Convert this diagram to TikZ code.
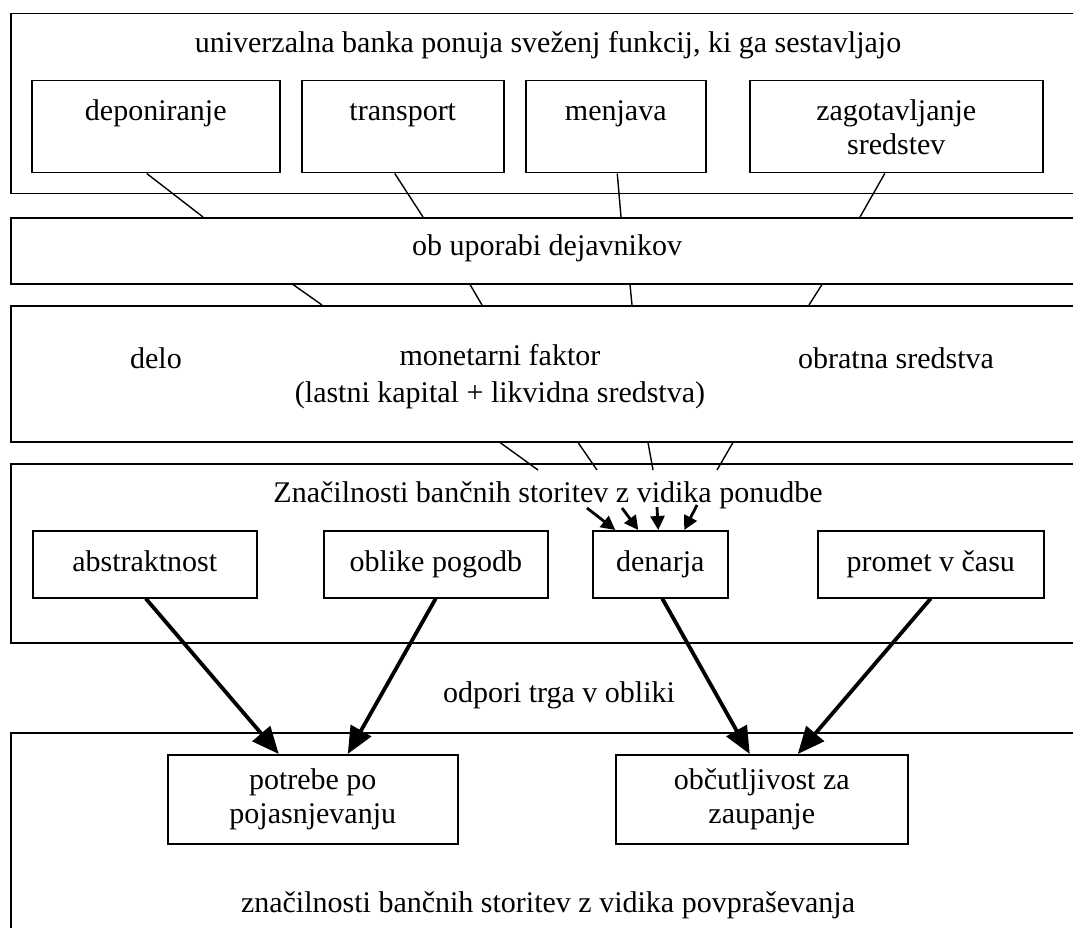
\documentclass[tikz,border=0pt]{standalone}
\usepackage{fontspec}
\setmainfont{Liberation Serif}
\usetikzlibrary{arrows.meta}
\usetikzlibrary{calc}

\tikzset{
  layer/.style={draw, line width=1.5pt, anchor=north west, inner sep=0pt},
  box/.style={draw, line width=1.5pt, anchor=north west, align=center, inner sep=0pt},
  topline/.style={text height=20pt, text depth=32pt},
  oneline/.style={text height=20pt, text depth=6pt},
  link/.style={line width=1.4pt},
  smallarrow/.style={line width=2.8pt, -{Triangle[length=14pt,width=14pt]}},
  bigarrow/.style={line width=3.8pt, -{Triangle[length=27pt,width=23pt]}},
}

\begin{document}
\begin{tikzpicture}[x=1pt,y=-1pt,font=\fontsize{30}{34}\selectfont]
            \useasboundingbox (0,0) rectangle (1073,928);
            \fill[white] (0,0) rectangle (1073,928);
            % layers
            \node[layer, minimum width=1080pt, minimum height=180pt] (ponudba) at (10,13) {};
            \node[layer, minimum width=1080pt, minimum height=66pt] (dejav) at (10,217) {};
            \node[layer, minimum width=1080pt, minimum height=136pt] (faktor) at (10,305) {};
            \node[layer, minimum width=1080pt, minimum height=179pt] (znac) at (10,463) {};
            \node[layer, minimum width=1080pt, minimum height=220pt] (povpr) at (10,732) {};
            % texts
            \node (naslov) at (548,45) {univerzalna banka ponuja sveženj funkcij, ki ga sestavljajo};
            \node (ob) at (547,248) {ob uporabi dejavnikov};
            \node (delo) at (156,358) {delo};
            \node[align=center] (mon) at (500,377) {monetarni faktor\\[3pt](lastni kapital + likvidna sredstva)};
            \node (obr) at (896,358) {obratna sredstva};
            \node (znacp) at (548,495) {Značilnosti bančnih storitev z vidika ponudbe};
            \node (odpori) at (559,695) {odpori trga v obliki};
            \node (znacd) at (548,905) {značilnosti bančnih storitev z vidika povpraševanja};
            % boxes
            \node[box, topline, minimum width=248pt, minimum height=92pt] (dep) at (31,80) {deponiranje};
            \node[box, topline, minimum width=202pt, minimum height=92pt] (trans) at (301,80) {transport};
            \node[box, topline, minimum width=180pt, minimum height=92pt] (menj) at (525,80) {menjava};
            \node[box, minimum width=293pt, minimum height=92pt] (zagot) at (749,80) {zagotavljanje\\sredstev};
            \node[box, oneline, minimum width=224pt, minimum height=67pt] (abs) at (32,530) {abstraktnost};
            \node[box, oneline, minimum width=224pt, minimum height=67pt] (obl) at (323,530) {oblike pogodb};
            \node[box, oneline, minimum width=135pt, minimum height=67pt] (den) at (592,530) {denarja};
            \node[box, oneline, minimum width=226pt, minimum height=67pt] (prom) at (817,530) {promet v času};
            \node[box, minimum width=290pt, minimum height=89pt] (pot) at (167,754) {potrebe po\\pojasnjevanju};
            \node[box, minimum width=292pt, minimum height=89pt] (obc) at (615,754) {občutljivost za\\zaupanje};
            % links
            \draw[link] ([xshift=-9pt]dep.south) -- (dejav.north -| 203,0);
            \draw[link] ([xshift=-8pt]trans.south) -- (dejav.north -| 423,0);
            \draw[link] ([xshift=1.5pt]menj.south) -- (dejav.north -| 621,0);
            \draw[link] ([xshift=-11.5pt]zagot.south) -- (dejav.north -| 860,0);
            \foreach \a/\b in {293/322, 470/482, 630/632, 822/809}
                \draw[link] (dejav.south -| \a,0) -- (faktor.north -| \b,0);
            \foreach \a/\b in {500/538, 578/597, 648/653, 733/717}
                \draw[link] (faktor.south -| \a,0) -- ($(znac.north -| \b,0)+(0,7)$);
            \foreach \n/\a/\b in {1/587/508, 2/622/508, 3/657/507, 4/697/505}
                \coordinate (s\n) at (\a,\b);
            \foreach \n/\c in {1/-45pt, 2/-22pt, 3/-2pt, 4/24pt}
                \draw[smallarrow] (s\n) -- ([xshift=\c]den.north);
            \draw[bigarrow] ([xshift=1pt]abs.south) -- ([xshift=-34pt]pot.north);
            \draw[bigarrow] (obl.south) -- ([xshift=35pt]pot.north);
            \draw[bigarrow] ([xshift=2pt]den.south) -- ([xshift=-12pt]obc.north);
            \draw[bigarrow] (prom.south) -- ([xshift=36pt]obc.north);
        \end{tikzpicture}
\end{document}
